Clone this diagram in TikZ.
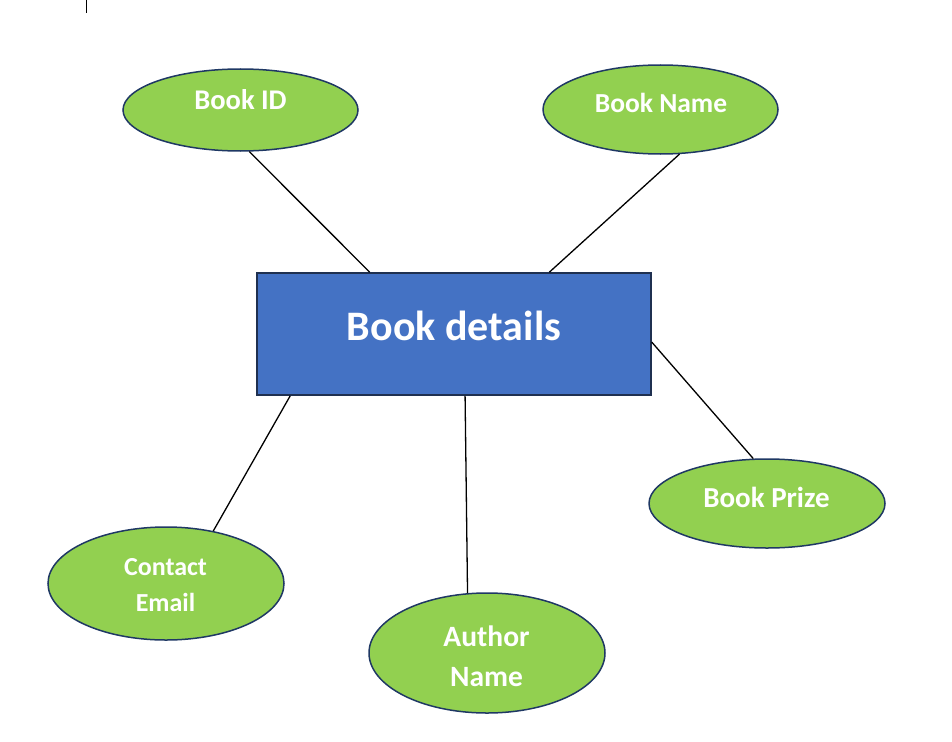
\documentclass[tikz,border=0pt]{standalone}
\usepackage{fontspec}
\setmainfont{Carlito}
\usetikzlibrary{shapes.geometric,calc}
\definecolor{attrgreen}{HTML}{92D050}
\definecolor{attrborder}{HTML}{1F3864}
\definecolor{entblue}{HTML}{4472C4}
\definecolor{entborder}{HTML}{1F3050}
\begin{document}
\begin{tikzpicture}[x=1pt,y=-1pt,
  attr/.style={ellipse,draw=attrborder,fill=attrgreen,line width=1.5pt,inner sep=0pt},
  entity/.style={rectangle,draw=entborder,fill=entblue,line width=1.6pt,inner sep=0pt},
  lbl/.style={anchor=base,inner sep=0pt,text=white},
  link/.style={draw=black,line width=1.3pt}]
\useasboundingbox (0,0) rectangle (952,741);
\draw[line width=0.8pt] (86,0) -- (86,13);
\node[entity,minimum width=394pt,minimum height=122pt] (book) at (454,334) {};
\node[lbl,font=\bfseries\fontsize{42}{46}\selectfont] (booktxt) at (454,340) {Book details};
\node[attr,minimum width=235pt,minimum height=82pt] (bookid) at (240.5,110) {};
\node[lbl,font=\bfseries\fontsize{28.5}{32}\selectfont] (bookidtxt) at (240.5,110) {Book ID};
\node[attr,minimum width=235pt,minimum height=89pt] (bookname) at (660.5,109.5) {};
\node[lbl,font=\bfseries\fontsize{27.5}{32}\selectfont] (booknametxt) at (661,113) {Book Name};
\node[attr,minimum width=236pt,minimum height=89pt] (prize) at (767,503.5) {};
\node[lbl,font=\bfseries\fontsize{29}{32}\selectfont] (prizetxt) at (766.5,507) {Book Prize};
\node[attr,minimum width=236pt,minimum height=113pt] (contact) at (166,583.5) {};
\node[lbl,font=\bfseries\fontsize{26}{30}\selectfont] (contacttxt) at (165.5,575) {Contact};
\node[lbl,font=\bfseries\fontsize{26}{30}\selectfont] (emailtxt) at (165.5,611) {Email};
\node[attr,minimum width=236pt,minimum height=120pt] (author) at (487,653) {};
\node[lbl,font=\bfseries\fontsize{29.5}{33}\selectfont] (authortxt) at (486.5,646.5) {Author};
\node[lbl,font=\bfseries\fontsize{29.5}{33}\selectfont] (nametxt) at (486.5,686) {Name};
\draw[link] (bookid.-78.6) -- ($(book.north west)!0.287!(book.north east)$);
\draw[link] (bookname.-67.2) -- ($(book.north west)!0.741!(book.north east)$);
\draw[link] ($(book.north east)!0.566!(book.south east)$) -- (prize.107.8);
\draw[link] ($(book.south west)!0.086!(book.south east)$) -- (contact.48);
\draw[link] ($(book.south west)!0.528!(book.south east)$) -- (author.108);
\end{tikzpicture}
\end{document}
